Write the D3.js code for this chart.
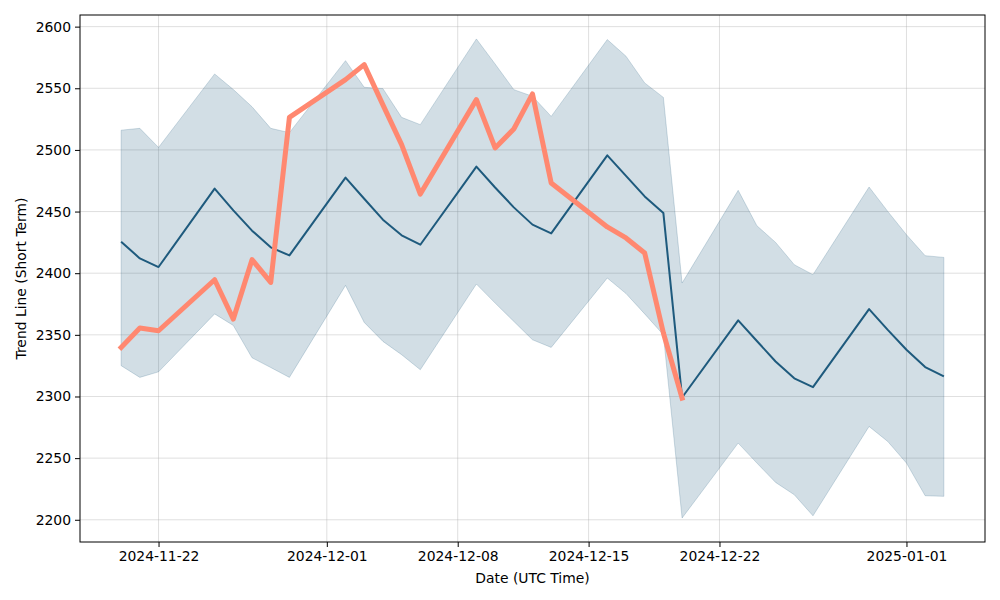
<!DOCTYPE html>
<html>
<head>
<meta charset="utf-8">
<script src="https://cdn.jsdelivr.net/npm/d3@7"></script>
<style>
body { margin: 0; background: white; }
text { font-family: "DejaVu Sans", sans-serif; }
</style>
</head>
<body>
<script>
// trading days shown on the chart
var dates = ["2024-11-20","2024-11-21","2024-11-22","2024-11-25","2024-11-26","2024-11-27","2024-11-28","2024-11-29",
             "2024-12-02","2024-12-03","2024-12-04","2024-12-05","2024-12-06",
             "2024-12-09","2024-12-10","2024-12-11","2024-12-12","2024-12-13",
             "2024-12-16","2024-12-17","2024-12-18","2024-12-19","2024-12-20",
             "2024-12-23","2024-12-24","2024-12-25","2024-12-26","2024-12-27",
             "2024-12-30","2024-12-31","2025-01-01","2025-01-02","2025-01-03"]

// short term trend line (middle)
var trend = [2425.6, 2412, 2405, 2468.6, 2451, 2434.5, 2421, 2414.4,
             2477.5, 2460.4, 2443.4, 2430.7, 2423.1,
             2486.4, 2469.5, 2453.4, 2439.4, 2432.3,
             2495.6, 2479, 2462.3, 2448.8, 2299.2,
             2361.7, 2345, 2328.4, 2314.7, 2307.6,
             2370.9, 2354, 2337.9, 2323.9, 2316.3]

var upper = [2516, 2517.5, 2502, 2561.6, 2549, 2535, 2517.5, 2514,
             2572.4, 2550.8, 2549.7, 2526.4, 2520.5,
             2590, 2569.7, 2548.9, 2543.5, 2527.2,
             2589.5, 2576, 2554.3, 2542.6, 2392,
             2467.2, 2438.5, 2425, 2406.9, 2398.8,
             2469.9, 2450.1, 2431.2, 2414.2, 2412.8]

var lower = [2325, 2315.5, 2320, 2367, 2357.6, 2331.4, 2323.5, 2315.5,
             2390.1, 2360.1, 2344.7, 2333.9, 2321.7,
             2391.2, 2375.8, 2360.9, 2346, 2339.8,
             2396.1, 2383.5, 2367, 2350, 2201.4,
             2262.2, 2246, 2230.3, 2220.3, 2203.2,
             2275.7, 2263.5, 2246, 2219.5, 2219]

// actual values, only up to 12-20
var actual = [2339.8, 2355.5, 2353.3, 2394.7, 2362.8, 2411, 2392.5, 2526.4,
              2557, 2569.2, 2536.5, 2504.3, 2464.2,
              2540.8, 2501.6, 2517, 2545.4, 2473.2,
              2437.5, 2428.6, 2416.4, 2351.5, 2298.7]

var xTicks = ["2024-11-22","2024-12-01","2024-12-08","2024-12-15","2024-12-22","2025-01-01"]
var yTicks = [2200, 2250, 2300, 2350, 2400, 2450, 2500, 2550, 2600]

var parse = d3.utcParse("%Y-%m-%d")

var setup = function()
{
    var screen = {width: 1000, height: 600}
    var margins = {top: 15, bottom: 58, left: 80, right: 15}

    var width = screen.width - margins.left - margins.right
    var height = screen.height - margins.top - margins.bottom

    var pts = dates.map(function(d, i)
    {
        return {date: parse(d), trend: trend[i], upper: upper[i], lower: lower[i], actual: actual[i]}
    })

    // matplotlib style 5% padding on both axes
    var xExt = d3.extent(pts, function(d) {return d.date})
    var xPad = (xExt[1] - xExt[0]) * 0.05
    var xScale = d3.scaleUtc()
                    .domain([new Date(+xExt[0] - xPad), new Date(+xExt[1] + xPad)])
                    .range([0, width])

    var yMin = d3.min(lower), yMax = d3.max(upper)
    var yPad = (yMax - yMin) * 0.05
    var yScale = d3.scaleLinear()
                    .domain([yMin - yPad, yMax + yPad])
                    .range([height, 0])

    var svg = d3.select("body")
    .append("svg")
    .attr("width", screen.width)
    .attr("height", screen.height)

    var plot = svg.append("g")
    .attr("transform", "translate(" + margins.left + "," + margins.top + ")")

    // grid
    plot.append("g")
    .selectAll("line.hgrid")
    .data(yTicks)
    .enter()
    .append("line")
    .attr("x1", 0)
    .attr("x2", width)
    .attr("y1", function(d) {return yScale(d)})
    .attr("y2", function(d) {return yScale(d)})
    .attr("stroke", "#b0b0b0")
    .attr("stroke-opacity", 0.4)
    .attr("stroke-width", 1)

    plot.append("g")
    .selectAll("line.vgrid")
    .data(xTicks)
    .enter()
    .append("line")
    .attr("y1", 0)
    .attr("y2", height)
    .attr("x1", function(d) {return xScale(parse(d))})
    .attr("x2", function(d) {return xScale(parse(d))})
    .attr("stroke", "#b0b0b0")
    .attr("stroke-opacity", 0.4)
    .attr("stroke-width", 1)

    // confidence band
    var band = d3.area()
    .x(function(d) {return xScale(d.date)})
    .y0(function(d) {return yScale(d.lower)})
    .y1(function(d) {return yScale(d.upper)})

    plot.append("path")
    .datum(pts)
    .attr("d", band)
    .attr("fill", "#1e5a7d")
    .attr("fill-opacity", 0.2)
    .attr("stroke", "#1e5a7d")
    .attr("stroke-opacity", 0.2)
    .attr("stroke-width", 1)

    var trendLine = d3.line()
    .x(function(d) {return xScale(d.date)})
    .y(function(d) {return yScale(d.trend)})

    plot.append("path")
    .datum(pts)
    .attr("d", trendLine)
    .attr("fill", "none")
    .attr("stroke", "#1e5a7d")
    .attr("stroke-width", 2)
    .attr("stroke-linejoin", "round")

    var actualLine = d3.line()
    .x(function(d) {return xScale(d.date)})
    .y(function(d) {return yScale(d.actual)})

    plot.append("path")
    .datum(pts.filter(function(d) {return d.actual != undefined}))
    .attr("d", actualLine)
    .attr("fill", "none")
    .attr("stroke", "#ff8870")
    .attr("stroke-width", 5)
    .attr("stroke-linejoin", "round")
    .attr("stroke-linecap", "square")

    // axes
    var xAxis = d3.axisBottom(xScale)
                .tickValues(xTicks.map(parse))
                .tickFormat(d3.utcFormat("%Y-%m-%d"))
                .tickSizeOuter(0)
                .tickSize(5)
                .tickPadding(4)
    var yAxis = d3.axisLeft(yScale)
                .tickValues(yTicks)
                .tickFormat(d3.format("d"))
                .tickSizeOuter(0)
                .tickSize(5)
                .tickPadding(4)

    plot.append("g")
    .attr("transform", "translate(0," + height + ")")
    .call(xAxis)
    plot.append("g")
    .call(yAxis)

    plot.selectAll(".domain").remove()
    plot.selectAll(".tick text")
    .attr("font-family", "DejaVu Sans")
    .attr("font-size", 13.9)
    .attr("fill", "black")
    plot.selectAll(".tick line").attr("stroke", "black")

    // frame
    plot.append("rect")
    .attr("width", width)
    .attr("height", height)
    .attr("fill", "none")
    .attr("stroke", "black")
    .attr("stroke-width", 1)

    svg.append("text")
    .attr("x", margins.left + width / 2)
    .attr("y", 583)
    .style("text-anchor", "middle")
    .attr("font-size", 13.9)
    .text("Date (UTC Time)")

    svg.append("text")
    .attr("transform", "translate(26," + (margins.top + height / 2) + ") rotate(-90)")
    .style("text-anchor", "middle")
    .attr("font-size", 13.9)
    .text("Trend Line (Short Term)")
}

setup()
</script>
</body>
</html>
